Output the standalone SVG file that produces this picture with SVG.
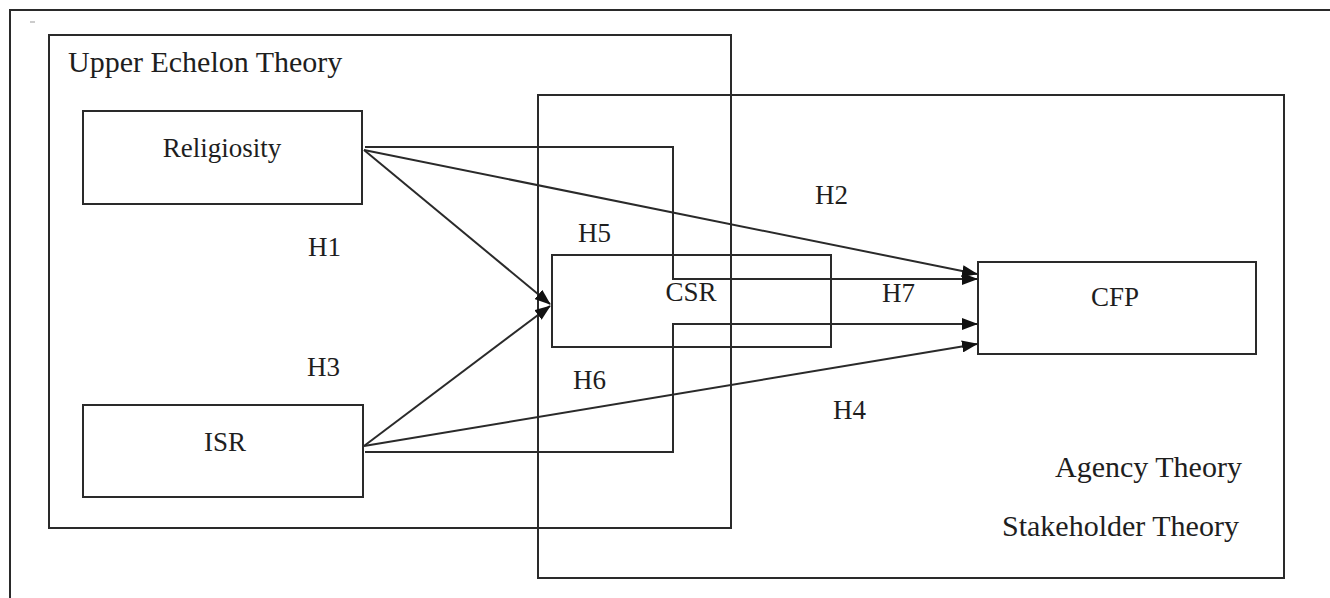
<svg xmlns="http://www.w3.org/2000/svg" width="1330" height="598" viewBox="0 0 1330 598">
<style>
.box{fill:none;stroke:#2a2a2a;stroke-width:2}
.ln{fill:none;stroke:#2a2a2a;stroke-width:2}
.t{font-family:"Liberation Serif","Times New Roman",serif;fill:#1e1e1e}
.big{font-size:30px}
.lbl{font-size:27px}
</style>
<defs>
<marker id="ah" markerUnits="userSpaceOnUse" markerWidth="16" markerHeight="12" refX="15" refY="6" orient="auto">
<path d="M0,0 L16,6 L0,12 z" fill="#111"/>
</marker>
</defs>
<rect width="1330" height="598" fill="#fff"/>
<path d="M10,598 V10 H1330" class="box" stroke-width="2.5"/>
<line x1="30" y1="22" x2="35" y2="22" stroke="#999" stroke-width="1"/>
<g id="upper-echelon">
<rect x="49" y="35" width="682" height="493" class="box"/>
<text x="68" y="72" class="t big">Upper Echelon Theory</text>
</g>
<g id="agency-stakeholder">
<rect x="538" y="95" width="746" height="483" class="box"/>
<text x="1055" y="477" class="t big">Agency Theory</text>
<text x="1002" y="536" class="t big">Stakeholder Theory</text>
</g>
<g id="religiosity">
<rect x="83" y="111" width="279" height="93" class="box"/>
<text x="222" y="157" class="t lbl" text-anchor="middle" font-size="28">Religiosity</text>
</g>
<g id="isr">
<rect x="83" y="405" width="280" height="92" class="box"/>
<text x="225" y="451" class="t lbl" text-anchor="middle">ISR</text>
</g>
<g id="csr">
<rect x="552" y="255" width="279" height="92" class="box"/>
<text x="691" y="301" class="t lbl" text-anchor="middle">CSR</text>
</g>
<g id="cfp">
<rect x="978" y="262" width="278" height="92" class="box"/>
<text x="1115" y="306" class="t lbl" text-anchor="middle">CFP</text>
</g>
<g id="connectors">
<line x1="364" y1="150" x2="550" y2="304" class="ln" marker-end="url(#ah)"/>
<line x1="364" y1="446" x2="550" y2="306" class="ln" marker-end="url(#ah)"/>
<line x1="364" y1="150" x2="977" y2="274" class="ln" marker-end="url(#ah)"/>
<line x1="364" y1="446" x2="977" y2="344" class="ln" marker-end="url(#ah)"/>
<path d="M365,147 H673 V279 H977" class="ln" marker-end="url(#ah)"/>
<path d="M365,452 H673 V324 H977" class="ln" marker-end="url(#ah)"/>
</g>
<g id="labels">
<text x="308" y="256" class="t lbl">H1</text>
<text x="815" y="204" class="t lbl">H2</text>
<text x="307" y="376" class="t lbl">H3</text>
<text x="833" y="419" class="t lbl">H4</text>
<text x="578" y="242" class="t lbl">H5</text>
<text x="573" y="389" class="t lbl">H6</text>
<text x="882" y="302" class="t lbl">H7</text>
</g>
</svg>
